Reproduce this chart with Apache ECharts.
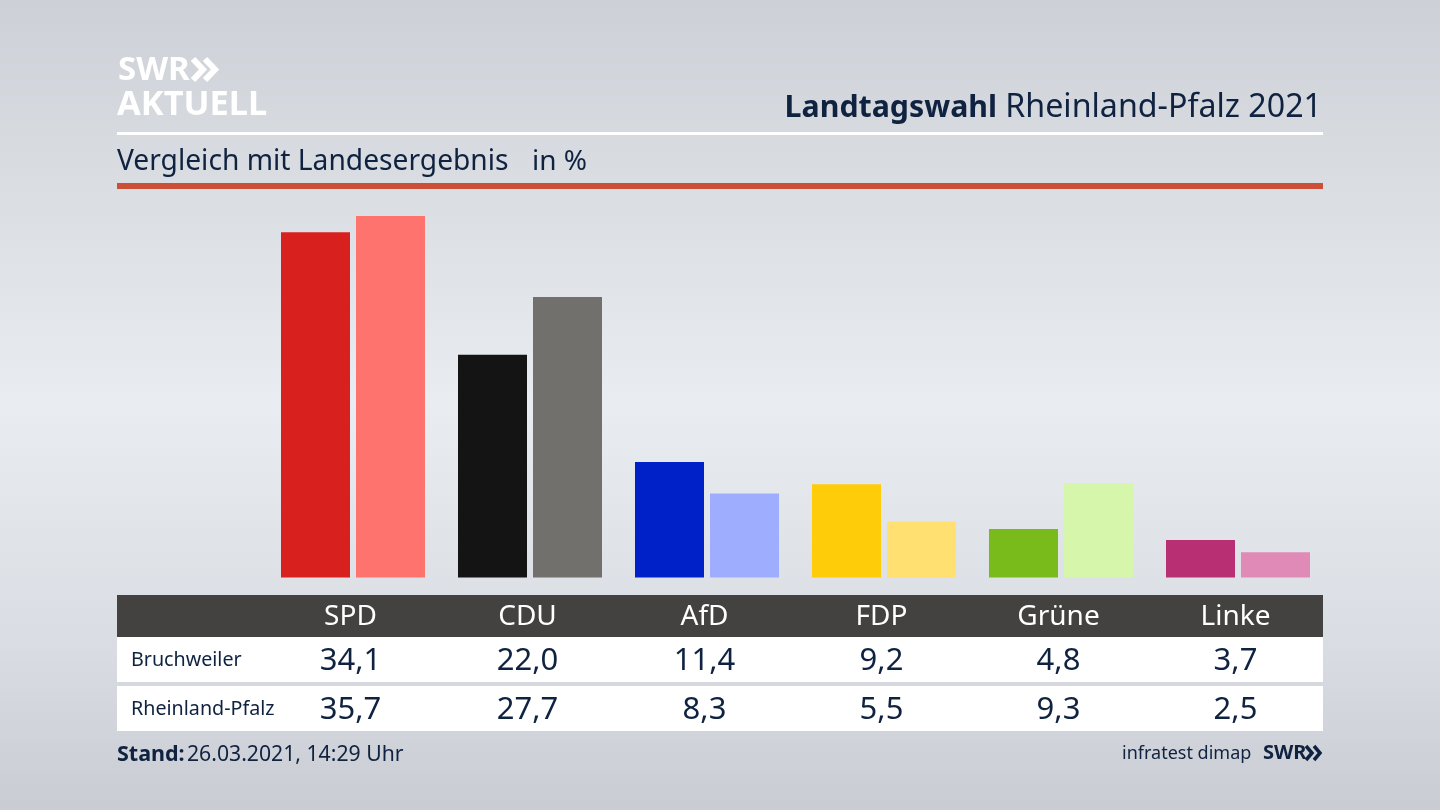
<!DOCTYPE html>
<html><head><meta charset="utf-8">
<style>html,body{margin:0;padding:0;background:#d5d8de}#c{width:1440px;height:810px}</style>
<script src="https://cdn.jsdelivr.net/npm/echarts@6/dist/echarts.min.js"></script>
</head><body><div id="c"></div>
<script>
const parties = ['SPD','CDU','AfD','FDP','Grüne','Linke'];
const bruchweiler = [34.1,22.0,11.4,9.2,4.8,3.7];
const rheinlandPfalz = [35.7,27.7,8.3,5.5,9.3,2.5];
const coloursLocal = ['#d8201f','#141414','#0020c8','#ffcc0a','#7abb1c','#b92f73'];
const coloursState = ['#ff736f','#72706d','#9fadff','#ffe070','#d5f6ab','#e08ab8'];
const rowNames = ['Bruchweiler','Rheinland-Pfalz'];
const FONT = '"Noto Sans"';
const INK = '#0f2240';
const fmt = v => v.toFixed(1).replace('.', ',');

function valueAxis(values, offset, size, color) {
  return {
    type:'category', position:'bottom', offset, z:10,
    data: values,
    axisLine:{show:false}, axisTick:{show:false},
    axisLabel:{interval:0, margin:0, verticalAlign:'middle', fontFamily:FONT, fontSize:size, color, padding:[0,5,0,0]}
  };
}
const txt = (x,y,text,size,extra={}) => ({type:'text',z:5,x,y,style:Object.assign({text,fontFamily:FONT,fontSize:size,fill:INK,verticalAlign:'middle',align:'left'},extra)});
const rect = (x,y,w,h,fill) => ({type:'rect',z:1,shape:{x,y,width:w,height:h},style:{fill}});
const chevron = (x,y,w,h,lw,stroke) => ({type:'polyline',z:5,shape:{points:[[x,y],[x+w,y+h/2],[x,y+h]]},style:{stroke,lineWidth:lw,fill:null}});

const chart = echarts.init(document.getElementById('c'),null,{renderer:'canvas'});
chart.setOption({
  animation:false,
  backgroundColor:{type:'linear',x:0,y:0,x2:0,y2:1,colorStops:[
    {offset:0,color:'#cdd1d7'},{offset:0.5,color:'#e9ecf0'},{offset:0.8,color:'#d9dce2'},{offset:1,color:'#c9ccd3'}]},
  grid:{left:264.5,top:182.5,width:1062,height:395,containLabel:false},
  xAxis:[
    valueAxis(parties,39.5,28,'#ffffff'),
    valueAxis(bruchweiler.map(fmt),83.5,31,INK),
    valueAxis(rheinlandPfalz.map(fmt),132.5,31,INK)
  ],
  yAxis:{type:'value',min:0,max:39,show:false},
  series:[
    {name:rowNames[0],type:'bar',barWidth:69,barGap:'8.7%',silent:true,
     data:bruchweiler.map((v,i)=>({value:v,itemStyle:{color:coloursLocal[i]}}))},
    {name:rowNames[1],type:'bar',barWidth:69,silent:true,
     data:rheinlandPfalz.map((v,i)=>({value:v,itemStyle:{color:coloursState[i]}}))}
  ],
  graphic:{elements:[
    rect(117,132,1206,3,'#ffffff'),
    rect(117,183,1206,6,'#cc5038'),
    rect(117,595,1206,42,'#434241'),
    rect(117,637,1206,45,'#ffffff'),
    rect(117,686,1206,45,'#ffffff'),
    txt(118,71,'SWR',33,{fill:'#fff',fontWeight:'bold'}),
    chevron(193,59,10,21,6,'#fff'),
    chevron(205,59,10,21,6,'#fff'),
    txt(117,105,'AKTUELL',34.4,{fill:'#fff',fontWeight:'bold'}),
    txt(1322,108,'Rheinland-Pfalz 2021',32.2,{align:'right'}),
    txt(997,108,'Landtagswahl',30.3,{align:'right',fontWeight:'bold'}),
    txt(117,162,'Vergleich mit Landesergebnis',28.2),
    txt(532,162,'in %',28),
    txt(131,660,rowNames[0],19.7),
    txt(131,709,rowNames[1],19.7),
    txt(117,755,'Stand:',21.5,{fontWeight:'bold'}),
    txt(187,755,'26.03.2021, 14:29 Uhr',21.2),
    txt(1122,754,'infratest dimap',18),
    txt(1263,753,'SWR',20,{fontWeight:'bold'}),
    chevron(1306,746,6,14,3.5,INK),
    chevron(1314,746,6,14,3.5,INK)
  ]}
});
</script></body></html>
